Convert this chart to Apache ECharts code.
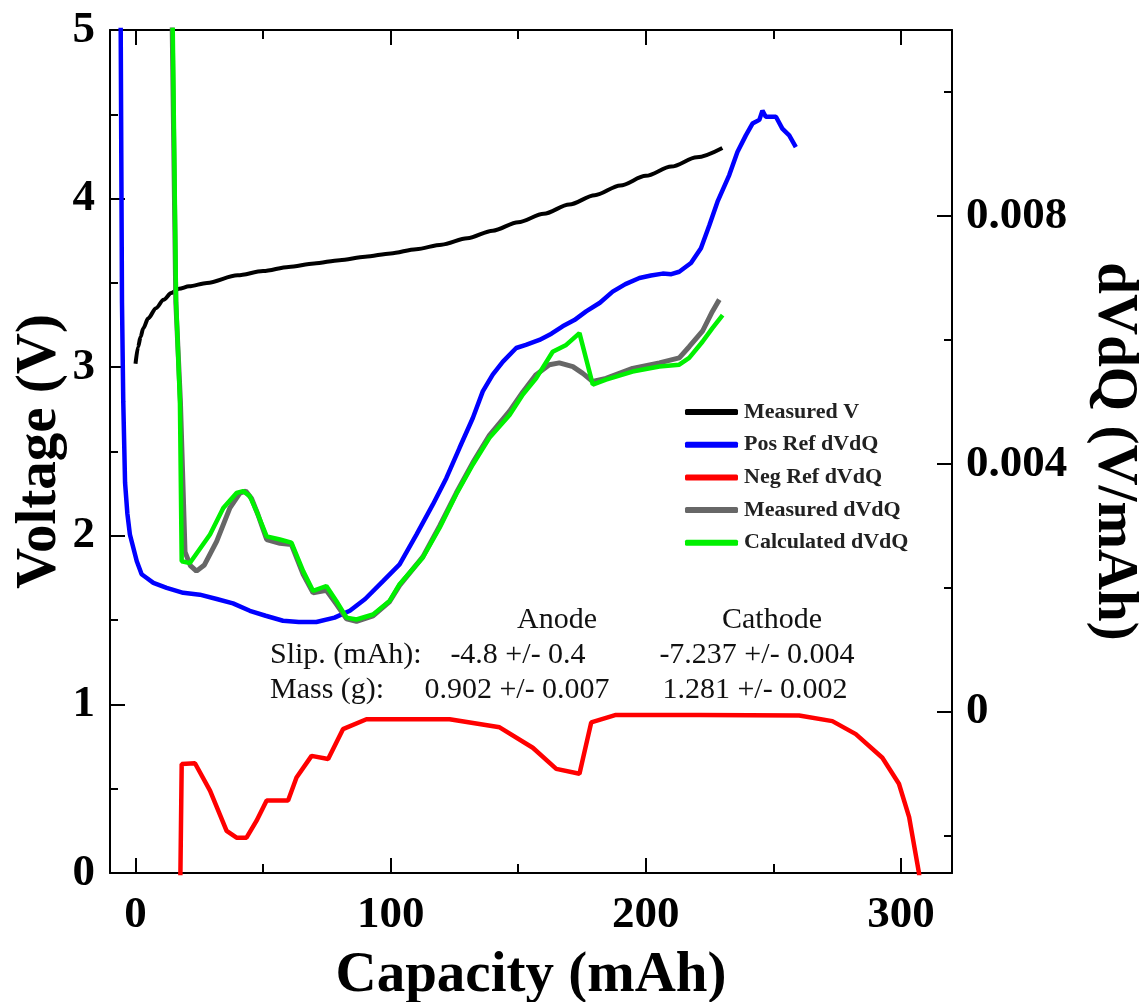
<!DOCTYPE html>
<html>
<head>
<meta charset="utf-8">
<script src="https://cdn.jsdelivr.net/npm/echarts@6/dist/echarts.min.js"></script>
<style>
html,body{margin:0;padding:0;background:#fff;}
#chart{width:1145px;height:1002px;}
</style>
</head>
<body>
<div id="chart"></div>
<script>
// ---- data (capacity mAh, value) ----
const measuredV = [[0,3.02],[1,3.12],[2,3.18],[3,3.23],[5,3.29],[8,3.35],[11,3.40],[14,3.44],[17,3.465],[21,3.48],[28,3.50],[40,3.545],[50,3.57],[60,3.595],[70,3.615],[80,3.635],[90,3.655],[100,3.675],[110,3.70],[120,3.727],[130,3.765],[140,3.81],[150,3.86],[160,3.91],[170,3.965],[180,4.02],[190,4.078],[200,4.135],[210,4.19],[220,4.245],[230,4.30]];

const posRefDvdq = [[-6.0,0.0125],[-5.8,0.01097],[-5.3,0.0066],[-4.8,0.0050],[-4.1,0.0037],[-3.2,0.0032],[-2.2,0.00286],[0.5,0.00243],[2.4,0.00222],[4.4,0.00216],[7.0,0.00208],[12.2,0.00200],[18.7,0.00192],[25.2,0.00189],[31.8,0.00182],[38.2,0.00175],[44.8,0.00163],[51,0.00155],[57.8,0.00147],[64,0.00145],[70.9,0.00145],[78,0.00152],[84.0,0.00163],[90,0.00182],[97.0,0.00211],[103.5,0.00238],[110.1,0.00286],[116.6,0.00335],[121.8,0.00377],[127.0,0.00426],[132.2,0.00474],[136.1,0.00517],[140.0,0.00544],[144.0,0.00565],[149.2,0.00587],[153,0.00592],[158.3,0.00600],[163,0.00610],[167.4,0.00622],[172,0.00632],[176.6,0.00646],[182,0.00660],[187.0,0.00678],[192,0.00690],[197.5,0.00700],[202,0.00704],[206.6,0.00707],[210,0.00706],[213.1,0.00710],[217.7,0.00724],[221.6,0.00748],[224.9,0.00785],[228.1,0.00823],[232.7,0.00866],[235.9,0.00903],[239.2,0.00930],[241.8,0.00949],[244.5,0.00955],[245.7,0.00970],[247.0,0.00960],[251.0,0.00960],[253.5,0.00941],[256.2,0.00930],[258.8,0.00911]];

const negRefDvdq = [[17.0,-0.0035],[17.6,-0.0026],[18.1,-0.00084],[23.3,-0.00083],[29.2,-0.00127],[35.7,-0.00192],[39.6,-0.00203],[43.5,-0.00203],[47.4,-0.00176],[51.4,-0.00143],[59.8,-0.00143],[63.1,-0.00106],[69.0,-0.00071],[75.5,-0.00076],[81.3,-0.00028],[90.5,-0.00012],[123.1,-0.00012],[142.7,-0.00025],[155.7,-0.00058],[164.9,-0.00092],[174.0,-0.00100],[178.6,-0.00017],[188.3,-0.00005],[220.9,-0.00005],[260.1,-0.00006],[273.1,-0.00015],[282.3,-0.00036],[292.7,-0.00074],[299.2,-0.00116],[303.2,-0.00170],[307.1,-0.00261],[308.5,-0.0035]];

const measuredDvdq = [[14.2,0.0125],[14.4,0.01097],[15.8,0.0066],[17.6,0.0050],[19.4,0.00258],[21.5,0.00236],[23.9,0.00227],[27,0.00237],[31.8,0.00275],[37.0,0.00329],[40.9,0.00353],[43.2,0.00356],[45.5,0.00344],[48,0.00318],[51.4,0.00278],[56.6,0.00272],[61.1,0.00270],[65.7,0.00222],[69.6,0.00192],[74.8,0.00196],[78.7,0.00174],[82.7,0.00150],[86.6,0.00146],[93.1,0.00155],[99.6,0.00178],[103.5,0.00204],[112.6,0.00250],[119.2,0.00300],[125.7,0.00353],[132.2,0.00402],[138.7,0.00446],[146.6,0.00485],[151.8,0.00516],[157.0,0.00544],[162.2,0.00560],[166.1,0.00563],[171.4,0.00557],[175.3,0.00546],[179.2,0.00533],[184.4,0.00538],[194.8,0.00554],[205.3,0.00563],[213.1,0.00571],[217.0,0.00589],[222.2,0.00614],[226.1,0.00646],[228.8,0.00665]];

const calculatedDvdq = [[14.4,0.0125],[14.6,0.01097],[15.9,0.00662],[17.4,0.00501],[18.1,0.00243],[21.3,0.00240],[29.2,0.00286],[34.4,0.00329],[39.6,0.00353],[42.2,0.00356],[44.8,0.00348],[47.4,0.00324],[51.4,0.00283],[56.6,0.00278],[61.1,0.00273],[65.7,0.00227],[69.6,0.00195],[74.8,0.00203],[78.7,0.00179],[82.7,0.00152],[86.6,0.00149],[93.1,0.00157],[99.6,0.00179],[103.5,0.00206],[112.6,0.00249],[119.2,0.00297],[125.7,0.00351],[132.2,0.00399],[138.7,0.00442],[146.6,0.00479],[151.8,0.00512],[157.0,0.00538],[163.5,0.00581],[168.8,0.00592],[174.0,0.00611],[179.2,0.00528],[184.4,0.00536],[194.8,0.00549],[205.3,0.00557],[213.1,0.00560],[217.0,0.00571],[222.2,0.00597],[226.1,0.00619],[230.1,0.00640]];

const capacityTicks = [0, 100, 200, 300];
const dvdqTicks = [0, 0.004, 0.008];
const dvdqMinorTicks = [-0.002, 0.002, 0.006, 0.010];

const tableHeaders = ['Anode', 'Cathode'];
const rowLabels = ['Slip. (mAh):', 'Mass (g):'];
const slipValues = ['-4.8 +/- 0.4', '-7.237 +/- 0.004'];
const massValues = ['0.902 +/- 0.007', '1.281 +/- 0.002'];

// ---- styling ----
const SERIF = '"Liberation Serif", "Times New Roman", serif';
const axisLbl = {fontFamily: SERIF, fontWeight: 'bold', fontSize: 45, color: '#000'};
const axisNm = {fontFamily: SERIF, fontWeight: 'bold', fontSize: 57, color: '#000'};
const axLine = {show: true, onZero: false, lineStyle: {color: '#000', width: 2}};
const X_MIN = -10, X_MAX = 320;
const D_MIN = -0.0026, D_MAX = 0.011;
const G_LEFT = 110, G_TOP = 30, G_W = 842, G_H = 843;
// second (tick-only) grid starts at capacity 0 so minor ticks every 50 mAh line up
const G2_LEFT = G_LEFT + (0 - X_MIN) / (X_MAX - X_MIN) * G_W;

const chart = echarts.init(document.getElementById('chart'), null, {renderer: 'canvas'});

const txt = (s, x, y, align) => ({
  type: 'text', x: x, y: y, silent: true,
  style: {text: s, font: '30px ' + SERIF, fill: '#111', textAlign: align, textVerticalAlign: 'middle'}
});

const option = {
  animation: false,
  backgroundColor: '#fff',
  grid: [
    {left: G_LEFT, top: G_TOP, width: G_W, height: G_H, outerBoundsMode: 'none', containLabel: false},
    {left: G2_LEFT, top: G_TOP, width: G_LEFT + G_W - G2_LEFT, height: G_H, outerBoundsMode: 'none', containLabel: false}
  ],
  xAxis: [
    {type: 'value', gridIndex: 0, position: 'bottom', min: X_MIN, max: X_MAX,
     axisLine: axLine, splitLine: {show: false},
     axisTick: {show: true, inside: true, length: 15, customValues: capacityTicks, lineStyle: {color: '#000', width: 2}},
     axisLabel: {show: true, customValues: capacityTicks, margin: 20, ...axisLbl},
     name: 'Capacity (mAh)', nameLocation: 'middle', nameGap: 75, nameTextStyle: axisNm},
    {type: 'value', gridIndex: 0, position: 'top', min: X_MIN, max: X_MAX,
     axisLine: axLine, splitLine: {show: false},
     axisTick: {show: true, inside: true, length: 15, customValues: capacityTicks, lineStyle: {color: '#000', width: 2}},
     axisLabel: {show: false}},
    {type: 'value', gridIndex: 1, position: 'bottom', min: 0, max: X_MAX, interval: 50,
     axisLine: {show: false, onZero: false}, splitLine: {show: false},
     axisTick: {show: true, inside: true, length: 9, lineStyle: {color: '#000', width: 2}},
     axisLabel: {show: false}},
    {type: 'value', gridIndex: 1, position: 'top', min: 0, max: X_MAX, interval: 50,
     axisLine: {show: false, onZero: false}, splitLine: {show: false},
     axisTick: {show: true, inside: true, length: 9, lineStyle: {color: '#000', width: 2}},
     axisLabel: {show: false}}
  ],
  yAxis: [
    {type: 'value', gridIndex: 0, position: 'left', min: 0, max: 5, interval: 1,
     axisLine: axLine, splitLine: {show: false},
     axisTick: {show: true, inside: true, length: 15, lineStyle: {color: '#000', width: 2}},
     minorTick: {show: true, splitNumber: 2, length: 8, lineStyle: {color: '#000', width: 2}},
     minorSplitLine: {show: false},
     axisLabel: {show: true, margin: 15, ...axisLbl},
     name: 'Voltage (V)', nameLocation: 'middle', nameGap: 41, nameRotate: 90, nameMoveOverlap: false,
     nameTextStyle: axisNm},
    {type: 'value', gridIndex: 0, position: 'right', min: D_MIN, max: D_MAX,
     axisLine: axLine, splitLine: {show: false},
     axisTick: {show: true, inside: true, length: 15, customValues: dvdqTicks, lineStyle: {color: '#000', width: 2}},
     axisLabel: {show: true, customValues: dvdqTicks, margin: 14, ...axisLbl,
       formatter: v => (Math.abs(v) < 1e-9 ? '0' : v.toFixed(3))},
     name: 'dVdQ (V/mAh)', nameLocation: 'middle', nameGap: 133, nameRotate: -90, nameTextStyle: axisNm},
    {type: 'value', gridIndex: 1, position: 'right', min: D_MIN, max: D_MAX,
     axisLine: {show: false, onZero: false}, splitLine: {show: false},
     axisTick: {show: true, inside: true, length: 8, customValues: dvdqMinorTicks, lineStyle: {color: '#000', width: 2}},
     axisLabel: {show: false}}
  ],
  legend: {
    orient: 'vertical', left: 680, top: 396, itemWidth: 53, itemHeight: 6, itemGap: 10.7,
    icon: 'roundRect', selectedMode: false,
    data: ['Measured V', 'Pos Ref dVdQ', 'Neg Ref dVdQ', 'Measured dVdQ', 'Calculated dVdQ'],
    textStyle: {fontFamily: SERIF, fontWeight: 'bold', fontSize: 22, color: '#222', lineHeight: 22, padding: [0, 0, 0, 1]}
  },
  series: [
    {name: 'Measured V', type: 'line', xAxisIndex: 0, yAxisIndex: 0, data: measuredV, symbol: 'none',
     smooth: 0.3, smoothMonotone: 'x', color: '#000', lineStyle: {color: '#000', width: 4}},
    {name: 'Pos Ref dVdQ', type: 'line', xAxisIndex: 0, yAxisIndex: 1, data: posRefDvdq, symbol: 'none',
     color: '#0000ff', lineStyle: {color: '#0000ff', width: 4.5}},
    {name: 'Neg Ref dVdQ', type: 'line', xAxisIndex: 0, yAxisIndex: 1, data: negRefDvdq, symbol: 'none',
     color: '#ff0000', lineStyle: {color: '#ff0000', width: 4.5}},
    {name: 'Measured dVdQ', type: 'line', xAxisIndex: 0, yAxisIndex: 1, data: measuredDvdq, symbol: 'none',
     color: '#676767', lineStyle: {color: '#676767', width: 5}},
    {name: 'Calculated dVdQ', type: 'line', xAxisIndex: 0, yAxisIndex: 1, data: calculatedDvdq, symbol: 'none',
     color: '#00f000', lineStyle: {color: '#00f000', width: 4.5}}
  ],
  graphic: [
    txt(tableHeaders[0], 557, 620, 'center'),
    txt(tableHeaders[1], 772, 620, 'center'),
    txt(rowLabels[0], 270, 655, 'left'),
    txt(slipValues[0], 518, 655, 'center'),
    txt(slipValues[1], 757, 655, 'center'),
    txt(rowLabels[1], 270, 690, 'left'),
    txt(massValues[0], 517, 690, 'center'),
    txt(massValues[1], 755, 690, 'center')
  ]
};
chart.setOption(option);
</script>
</body>
</html>
